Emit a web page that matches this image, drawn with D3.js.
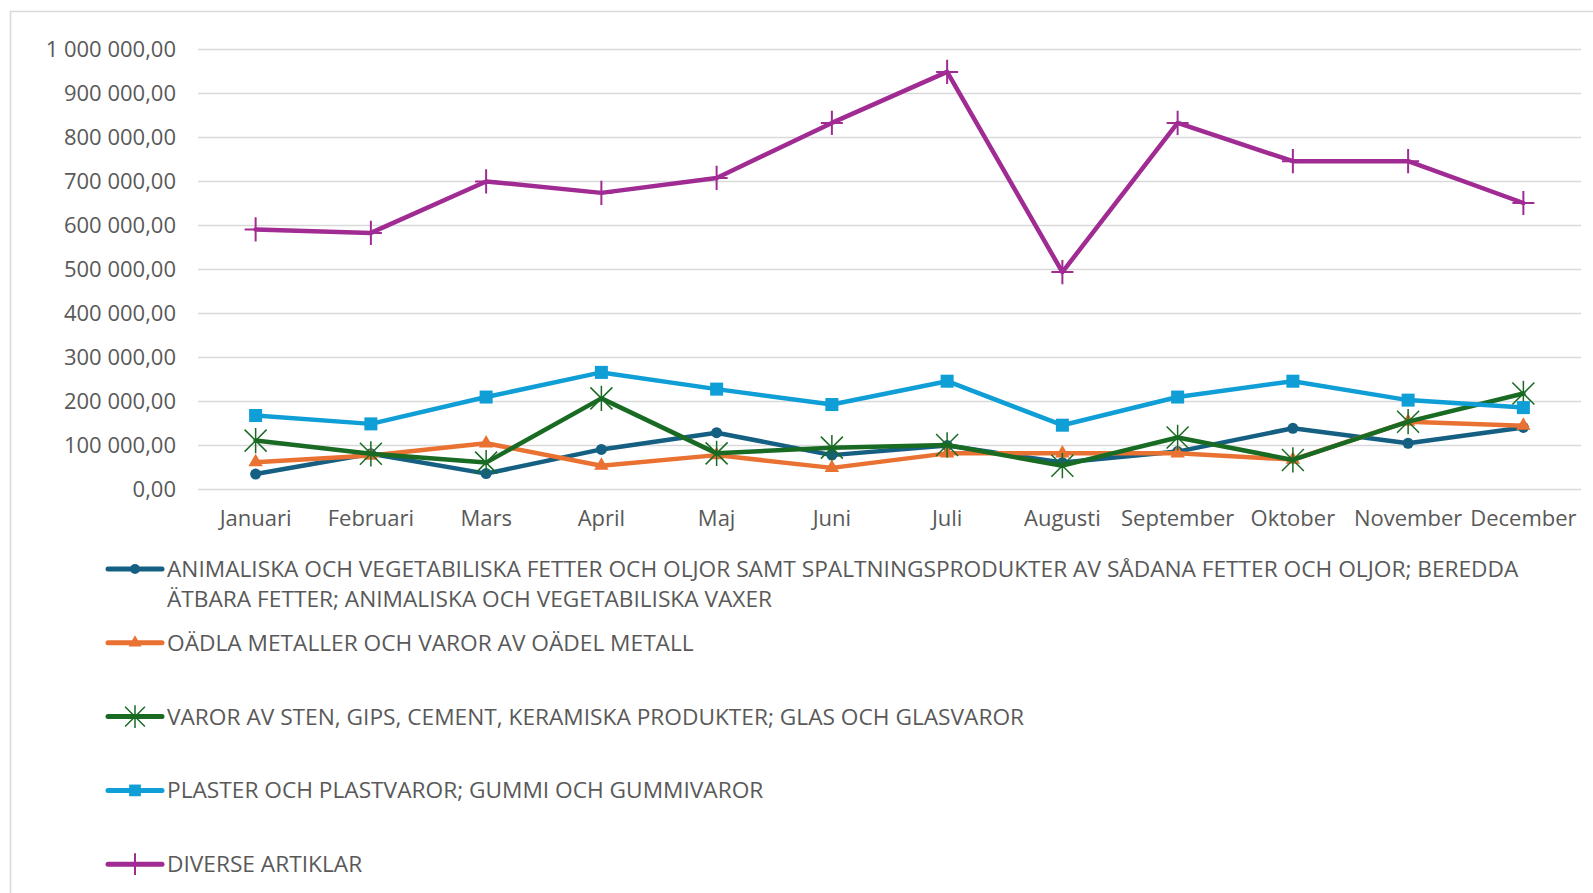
<!DOCTYPE html>
<html>
<head>
<meta charset="utf-8">
<script src="https://cdn.jsdelivr.net/npm/d3@7"></script>
<style>
  html, body { margin: 0; padding: 0; background: #fff; }
  svg text { font-family: "Open Sans", Roboto, "Liberation Sans", sans-serif; fill: #595959; }
</style>
</head>
<body>
<svg id="chart" width="1593" height="893"></svg>
<script>
  const months = ['Januari', 'Februari', 'Mars', 'April', 'Maj', 'Juni', 'Juli', 'Augusti', 'September', 'Oktober', 'November', 'December'];

  const animaliska = [34000, 80000, 35000, 90000, 128000, 77000, 99000, 60000, 85000, 138000, 104000, 140000];
  const oadla = [61000, 76000, 104000, 53000, 77000, 48000, 81000, 81000, 81000, 67000, 153000, 144000];
  const varorSten = [110000, 80000, 60000, 206000, 81000, 94000, 100000, 53000, 117000, 66000, 153000, 217000];
  const plaster = [167000, 148000, 209000, 265000, 227000, 192000, 245000, 145000, 209000, 245000, 202000, 185000];
  const diverse = [590000, 582000, 699000, 673000, 707000, 832000, 948000, 493000, 832000, 745000, 745000, 650000];

  const yTicks = [0, 100000, 200000, 300000, 400000, 500000, 600000, 700000, 800000, 900000, 1000000];

  const seriesNames = [
    ['ANIMALISKA OCH VEGETABILISKA FETTER OCH OLJOR SAMT SPALTNINGSPRODUKTER AV SÅDANA FETTER OCH OLJOR; BEREDDA', 'ÄTBARA FETTER; ANIMALISKA OCH VEGETABILISKA VAXER'],
    ['OÄDLA METALLER OCH VAROR AV OÄDEL METALL'],
    ['VAROR AV STEN, GIPS, CEMENT, KERAMISKA PRODUKTER; GLAS OCH GLASVAROR'],
    ['PLASTER OCH PLASTVAROR; GUMMI OCH GUMMIVAROR'],
    ['DIVERSE ARTIKLAR']
  ];

  const series = [
    { name: seriesNames[0], values: animaliska, color: '#156082', marker: 'circle' },
    { name: seriesNames[1], values: oadla, color: '#E97132', marker: 'triangle' },
    { name: seriesNames[2], values: varorSten, color: '#196B24', marker: 'star' },
    { name: seriesNames[3], values: plaster, color: '#0F9ED5', marker: 'square' },
    { name: seriesNames[4], values: diverse, color: '#A02B93', marker: 'plus' }
  ];

  const svg = d3.select('#chart');

  // chart frame (runs off the screenshot on the right and bottom)
  svg.append('rect')
    .attr('x', 10.5).attr('y', 11.5)
    .attr('width', 1640).attr('height', 950)
    .attr('fill', 'none')
    .attr('stroke', '#d9d9d9')
    .attr('stroke-width', 1.5);

  const plot = { left: 198, right: 1581, top: 49, bottom: 489 };

  const x = d3.scaleBand().domain(months).range([plot.left, plot.right]);
  const y = d3.scaleLinear().domain([0, 1000000]).range([plot.bottom, plot.top]);
  const cx = d => x(d) + x.bandwidth() / 2;

  const sv = d3.formatLocale({ decimal: ',', thousands: ' ', grouping: [3], currency: ['', ''] });
  const fmt = sv.format(',.2f');

  // gridlines
  svg.append('g')
    .attr('transform', `translate(${plot.left},0)`)
    .call(d3.axisLeft(y).tickValues(yTicks).tickSize(-(plot.right - plot.left)).tickFormat(''))
    .call(g => g.select('.domain').remove())
    .call(g => g.selectAll('line').attr('stroke', '#d9d9d9').attr('stroke-width', 1.5));

  // y labels
  svg.append('g')
    .attr('transform', `translate(${plot.left},0)`)
    .call(d3.axisLeft(y).tickValues(yTicks).tickSize(0).tickPadding(22).tickFormat(fmt))
    .call(g => g.select('.domain').remove())
    .call(g => g.selectAll('text').style('font-size', '22px').attr('fill', '#595959'));

  // x labels
  svg.append('g')
    .attr('transform', `translate(0,${plot.bottom})`)
    .call(d3.axisBottom(x).tickSize(0))
    .call(g => g.select('.domain').remove())
    .call(g => g.selectAll('text').style('font-size', '22px').attr('fill', '#595959').attr('y', 37).attr('dy', 0));

  function drawMarker(g, type, color, s) {
    if (type === 'circle') {
      g.append('circle').attr('r', 5.5 * s).attr('fill', color);
    } else if (type === 'square') {
      g.append('rect').attr('x', -6.5 * s).attr('y', -6.5 * s).attr('width', 13 * s).attr('height', 13 * s).attr('fill', color);
    } else if (type === 'triangle') {
      g.append('path').attr('d', d3.symbol(d3.symbolTriangle, 90 * s * s)()).attr('fill', color);
    } else if (type === 'star') {
      const r = 11 * s;
      g.append('path')
        .attr('d', `M${-r},${-r}L${r},${r}M${-r},${r}L${r},${-r}M0,${-r * 1.15}L0,${r * 1.15}`)
        .attr('stroke', color).attr('stroke-width', 1.5).attr('fill', 'none');
    } else if (type === 'plus') {
      const r = 11 * s;
      g.append('path')
        .attr('d', `M${-r},0L${r},0M0,${-r * 1.1}L0,${r * 1.1}`)
        .attr('stroke', color).attr('stroke-width', 2).attr('fill', 'none');
    }
  }

  const line = d3.line().x((d, i) => cx(months[i])).y(d => y(d));

  series.forEach(s => {
    const g = svg.append('g');
    g.append('path')
      .datum(s.values)
      .attr('d', line)
      .attr('fill', 'none')
      .attr('stroke', s.color)
      .attr('stroke-width', 4.5)
      .attr('stroke-linejoin', 'round')
      .attr('stroke-linecap', 'round');
    g.selectAll('.m')
      .data(s.values)
      .enter()
      .append('g')
      .attr('transform', (d, i) => `translate(${cx(months[i])},${y(d)})`)
      .each(function() { drawMarker(d3.select(this), s.marker, s.color, 1); });
  });

  // legend
  const legendTop = 569;
  const legendStep = 73.8;
  const legend = svg.selectAll('.legend')
    .data(series)
    .enter()
    .append('g')
    .attr('class', 'legend')
    .attr('transform', (d, i) => `translate(0,${legendTop + i * legendStep})`);

  legend.append('line')
    .attr('x1', 108).attr('x2', 162)
    .attr('stroke', d => d.color)
    .attr('stroke-width', 5)
    .attr('stroke-linecap', 'round');

  legend.append('g')
    .attr('transform', 'translate(135,0)')
    .each(function(d) { drawMarker(d3.select(this), d.marker, d.color, 0.9); });

  legend.append('text')
    .attr('x', 167)
    .attr('y', 8)
    .style('font-size', '22.7px')
    .selectAll('tspan')
    .data(d => d.name)
    .enter()
    .append('tspan')
    .attr('x', 167)
    .attr('dy', (d, i) => i === 0 ? 0 : 29.5)
    .text(d => d);
</script>
</body>
</html>
